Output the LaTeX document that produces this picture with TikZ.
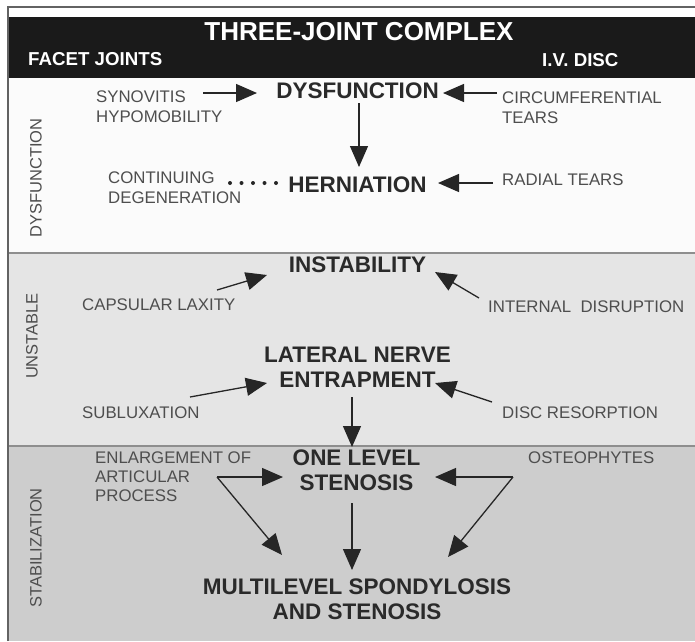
\documentclass[tikz,border=0pt]{standalone}
\usepackage{fontspec}
\setmainfont{Liberation Sans}
\usetikzlibrary{arrows.meta,calc}
\definecolor{panelA}{HTML}{FBFBFB}
\definecolor{panelB}{HTML}{E5E5E5}
\definecolor{panelC}{HTML}{CDCDCD}
\definecolor{labelgray}{HTML}{4E4E4E}
\definecolor{maingray}{HTML}{2A2A2A}
\definecolor{linegray}{HTML}{262626}
\definecolor{rulegray}{HTML}{8E8E8E}
\definecolor{hdrblack}{HTML}{1A1A1A}
\begin{document}
\begin{tikzpicture}[x=1pt,y=-1pt,
  lbl/.style={font=\fontsize{16.8}{20}\selectfont, text=labelgray, inner sep=0pt, align=left, anchor=west},
  mainnode/.style={font=\bfseries\fontsize{22.5}{25}\selectfont, text=maingray, inner sep=0pt, align=center},
  sidelbl/.style={font=\fontsize{16.5}{18}\selectfont, text=labelgray, rotate=90, inner sep=0pt},
  arr/.style={draw=linegray, line width=1.3pt, -{Triangle[length=21pt,width=18pt]}},
  hdrtext/.style={text=white, inner sep=0pt}]
\useasboundingbox (0,0) rectangle (695,641);
\fill[white] (0,0) rectangle (695,641);
% panels
\fill[panelA] (9,17) rectangle (695,253);
\fill[panelB] (9,253) rectangle (695,446);
\fill[panelC] (9,446) rectangle (695,641);
\fill[hdrblack] (9,17) rectangle (695,78);
\draw[rulegray, line width=1.6pt] (9,253) -- (695,253);
\draw[rulegray, line width=1.6pt] (9,446) -- (695,446);
\draw[rulegray!70!black, line width=1.4pt] (8,641) -- (8,7) -- (695,7);
% header
\node[hdrtext, font=\bfseries\fontsize{26}{28}\selectfont] (title) at (359,32) {THREE-JOINT COMPLEX};
\node[hdrtext, font=\bfseries\fontsize{18.7}{20}\selectfont, anchor=west] (facet) at (28,59) {FACET JOINTS};
\node[hdrtext, font=\bfseries\fontsize{18.7}{20}\selectfont, anchor=west] (ivd) at (542,60) {I.V. DISC};
% side labels
\node[sidelbl] (sdys) at (36,178) {DYSFUNCTION};
\node[sidelbl] (suns) at (32,336) {UNSTABLE};
\node[sidelbl] (sstab) at (36,548) {STABILIZATION};
% main nodes
\node[mainnode] (dys) at (357.5,91) {DYSFUNCTION};
\node[mainnode] (her) at (357.5,185) {HERNIATION};
\node[mainnode] (inst) at (357.5,265) {INSTABILITY};
\node[mainnode] (lat) at (357.5,367.5) {LATERAL NERVE\\ENTRAPMENT};
\node[mainnode] (one) at (356.5,470.5) {ONE LEVEL\\STENOSIS};
\node[mainnode] (multi) at (357,599.5) {MULTILEVEL SPONDYLOSIS\\AND STENOSIS};
% side text
\node[lbl] (syn) at (96,107) {SYNOVITIS\\HYPOMOBILITY};
\node[lbl] (circ) at (502,108) {CIRCUMFERENTIAL\\TEARS};
\node[lbl] (cont) at (108,187.5) {CONTINUING\\DEGENERATION};
\node[lbl] (rad) at (502,180) {RADIAL TEARS};
\node[lbl] (caps) at (82,305) {CAPSULAR LAXITY};
\node[lbl] (intd) at (488,307) {INTERNAL\ \ DISRUPTION};
\node[lbl] (subl) at (82,413) {SUBLUXATION};
\node[lbl] (disc) at (502,413) {DISC RESORPTION};
\node[lbl, font=\fontsize{16.8}{19}\selectfont] (enl) at (95,477) {ENLARGEMENT OF\\ARTICULAR\\PROCESS};
\node[lbl] (ost) at (528,458) {OSTEOPHYTES};
% arrow tails and heads
\coordinate (synT) at (203,93);
\coordinate (synH) at (257,93);
\coordinate (circT) at (497,93);
\coordinate (circH) at (443,93);
\coordinate (dysD) at (359,103);
\coordinate (herU) at (359,167);
\coordinate (dotA) at (230,183);
\coordinate (dotB) at (276,183);
\coordinate (radT) at (493,183);
\coordinate (radH) at (438,183);
\coordinate (capT) at (217,290);
\coordinate (capH) at (267,275);
\coordinate (intT) at (479,298);
\coordinate (intH) at (435,272);
\coordinate (subT) at (190,397);
\coordinate (subH) at (267,383);
\coordinate (discT) at (492,402);
\coordinate (discH) at (435,383);
\coordinate (latD) at (352,397);
\coordinate (oneU) at (352,447);
\coordinate (enlJ) at (217,477);
\coordinate (oneL) at (283,477);
\coordinate (mulL) at (282,555);
\coordinate (ostJ) at (513,477);
\coordinate (oneR) at (435,477);
\coordinate (mulR) at (448,557);
\coordinate (oneD) at (352,503);
\coordinate (mulU) at (352,570);
% connectors
\draw[arr] (synT) -- (synH);
\draw[arr] (circT) -- (circH);
\draw[arr] (dysD) -- (herU);
\draw[linegray, line width=4pt, line cap=round, dash pattern=on 0pt off 11.5pt] (dotA) -- (dotB);
\draw[arr] (radT) -- (radH);
\draw[arr] (capT) -- (capH);
\draw[arr] (intT) -- (intH);
\draw[arr] (subT) -- (subH);
\draw[arr] (discT) -- (discH);
\draw[arr] (latD) -- (oneU);
\draw[arr] (enlJ) -- (oneL);
\draw[arr] (enlJ) -- (mulL);
\draw[arr] (ostJ) -- (oneR);
\draw[arr] (ostJ) -- (mulR);
\draw[arr] (oneD) -- (mulU);
\end{tikzpicture}
\end{document}
